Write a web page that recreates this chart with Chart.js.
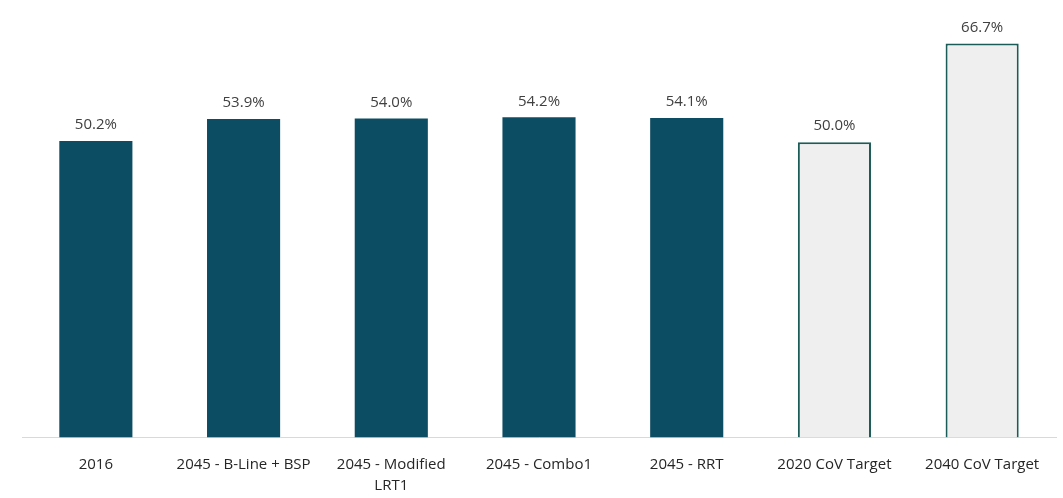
<!DOCTYPE html>
<html>
<head>
<meta charset="utf-8">
<script src="https://cdn.jsdelivr.net/npm/chart.js@4"></script>
<style>
  html, body { margin: 0; padding: 0; background: #fff; }
  #wrap { width: 1063px; height: 498px; position: relative; }
</style>
</head>
<body>
<div id="wrap"><canvas id="myChart"></canvas></div>
<script>
const categories = ["2016", "2045 - B-Line + BSP", ["2045 - Modified", "LRT1"], "2045 - Combo1", "2045 - RRT", "2020 CoV Target", "2040 CoV Target"];
const values = [50.2, 53.9, 54.0, 54.2, 54.1, 50.0, 66.7];
const isTarget = [false, false, false, false, false, true, true];

const DARK = '#0d4d63';
const TARGET_FILL = '#efefef';
const TARGET_EDGE = '#1b5b58';
const FONT = '"Open Sans", "Liberation Sans", sans-serif';

// draws the percentage above every bar
const valueLabels = {
    id: 'valueLabels',
    afterDatasetsDraw(chart) {
        const ctx = chart.ctx;
        const meta = chart.getDatasetMeta(0);
        ctx.save();
        ctx.font = '15px ' + FONT;
        ctx.fillStyle = '#404040';
        ctx.textAlign = 'center';
        ctx.textBaseline = 'middle';
        meta.data.forEach((bar, i) => {
            ctx.fillText(values[i].toFixed(1) + '%', bar.x, bar.y - 16);
        });
        ctx.restore();
    }
};

const CHART = document.getElementById("myChart");
let barChart = new Chart(CHART, {
    type: 'bar',
    data: {
        labels: categories,
        datasets: [{
            data: values,
            backgroundColor: isTarget.map(t => t ? TARGET_FILL : DARK),
            borderColor: isTarget.map(t => t ? TARGET_EDGE : DARK),
            borderWidth: isTarget.map(t => t ? 2 : 0),
            categoryPercentage: 1,
            barPercentage: 0.495
        }]
    },
    options: {
        maintainAspectRatio: false,
        responsive: true,
        animation: false,
        layout: { padding: { left: 22, right: 7, top: 24, bottom: -15 } },
        plugins: {
            legend: { display: false },
            tooltip: { enabled: false }
        },
        scales: {
            y: {
                display: false,
                min: 0,
                max: 70
            },
            x: {
                grid: { display: false, drawTicks: false },
                border: { display: true, color: '#d9d9d9', width: 1 },
                ticks: {
                    color: '#262626',
                    font: { size: 15, family: FONT, lineHeight: 1.45 },
                    padding: 16,
                    maxRotation: 0,
                    autoSkip: false
                }
            }
        }
    },
    plugins: [valueLabels]
});
</script>
</body>
</html>
